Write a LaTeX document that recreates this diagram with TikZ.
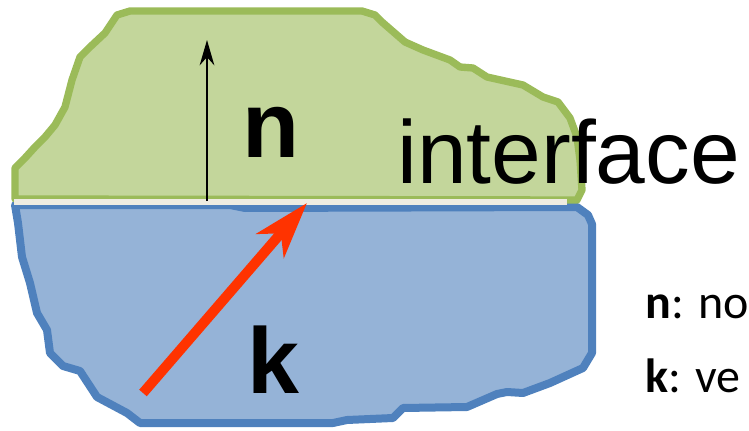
\documentclass[tikz,border=0pt]{standalone}
\usepackage{fontspec}
\setmainfont{Liberation Sans}
\newfontfamily\legendfont{Carlito}
\usepackage{tikz}
\usetikzlibrary{arrows.meta}
\definecolor{greenfill}{HTML}{C3D69B}
\definecolor{greenline}{HTML}{9BBB59}
\definecolor{bluefill}{HTML}{95B3D7}
\definecolor{blueline}{HTML}{4F81BD}
\definecolor{ifaceline}{HTML}{EEECE1}
\definecolor{kred}{HTML}{FF3300}
\begin{document}
\begin{tikzpicture}[x=0.75pt, y=-0.75pt, line join=round]
  \useasboundingbox (0,0) rectangle (749,431);
  % lower medium
  \draw[blueline, line width=6pt, fill=bluefill]
    (15,205) -- (230,205) -- (245,208) -- (577,207) -- (588,215) -- (592,224)
    -- (592,353) -- (583,368) -- (550,383) -- (523,393) -- (507,392) -- (497,394)
    -- (467,407) -- (403,408) -- (393,418) -- (347,420) -- (333,423) -- (140,423)
    -- (127,413) -- (97,397) -- (80,371) -- (63,366) -- (50,353) -- (47,330)
    -- (37,313) -- (30,283) -- (22,257) -- (18,223) -- cycle;
  % upper medium
  \draw[greenline, line width=5.5pt, fill=greenfill]
    (15,199) -- (15,168) -- (25,158) -- (35,147) -- (45,137) -- (55,125)
    -- (65,107) -- (72,80) -- (80,57) -- (90,47) -- (105,33) -- (117,15)
    -- (130,11) -- (362,11) -- (375,15) -- (382,22) -- (405,42) -- (423,50)
    -- (450,60) -- (460,67) -- (473,68) -- (487,77) -- (523,85) -- (543,97)
    -- (558,102) -- (570,118) -- (577,137) -- (580,160) -- (582,190) -- (577,200) -- cycle;
  % the interface itself
  \coordinate (ifl) at (14,202);
  \coordinate (ifr) at (567,202);
  \draw[ifaceline, line width=4.5pt] (ifl) -- (ifr);
  % normal
  \coordinate (nbase) at (207,201);
  \coordinate (ntip) at (207,40);
  \draw[-{Stealth[length=19pt, width=11pt]}, line width=1.4pt] (nbase) -- (ntip);
  % wave vector
  \coordinate (kfrom) at (143,393);
  \coordinate (kto) at (307,203);
  \draw[-{Stealth[length=42pt, width=27pt, inset=12pt]}, kred, line width=7.5pt] (kfrom) -- (kto);
  \node[anchor=base west, inner sep=0, font=\fontsize{70}{70}\selectfont\bfseries] (nlabel) at (242,157) {n};
  \node[anchor=base west, inner sep=0, font=\fontsize{70}{70}\selectfont\bfseries] (klabel) at (247,393) {k};
  \node[anchor=base west, inner sep=0, font=\fontsize{67}{67}\selectfont] (iface) at (397,183) {interface};
  % legend
  \node[anchor=base west, inner sep=0, font=\legendfont\fontsize{36}{36}\selectfont] (legn) at (645,318) {\textbf{n}: no};
  \node[anchor=base west, inner sep=0, font=\legendfont\fontsize{36}{36}\selectfont] (legk) at (645,392) {\textbf{k}: ve};
\end{tikzpicture}
\end{document}
